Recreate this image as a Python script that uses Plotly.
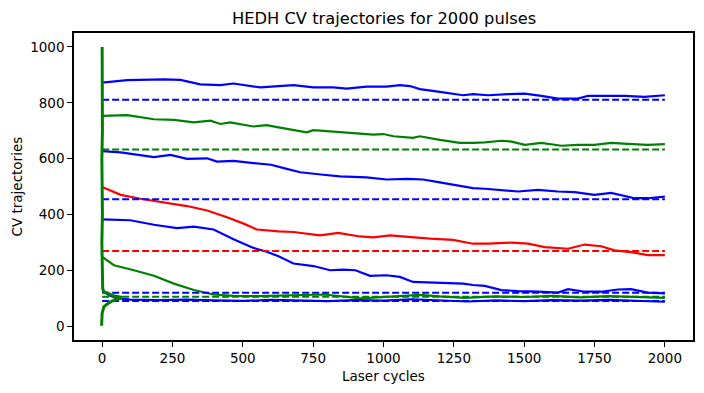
import plotly.graph_objects as go

# ---------------- data ----------------
blue_top_x = [0, 89, 219, 278, 349, 420, 467, 562, 627, 680, 751, 822, 869, 940, 1011, 1058, 1094, 1129,
              1200, 1283, 1318, 1372, 1443, 1502, 1561, 1620, 1691, 1727, 1786, 1857, 1927, 2000]
blue_top_y = [872, 881, 884, 882, 866, 863, 869, 855, 860, 863, 855, 855, 851, 858, 858, 863, 860, 849,
              839, 827, 831, 827, 831, 833, 825, 815, 815, 825, 825, 825, 821, 827]

green_top_x = [0, 89, 184, 255, 326, 385, 420, 455, 538, 585, 627, 680, 727, 751, 822, 893, 964, 1000,
               1035, 1105, 1129, 1200, 1271, 1318, 1360, 1419, 1455, 1502, 1561, 1632, 1691, 1750, 1809,
               1868, 1939, 2000]
green_top_y = [753, 756, 741, 739, 730, 736, 724, 730, 715, 720, 712, 703, 694, 702, 697, 690, 686, 688,
               680, 674, 680, 667, 656, 656, 658, 664, 661, 649, 656, 646, 649, 649, 656,
               653, 649, 652]

blue_mid_x = [0, 66, 184, 243, 302, 373, 408, 467, 538, 600, 656, 704, 786, 845, 940, 1011, 1082, 1141,
              1200, 1271, 1318, 1360, 1419, 1478, 1549, 1620, 1679, 1750, 1809, 1892, 1939, 2000]
blue_mid_y = [627, 622, 605, 613, 599, 601, 589, 592, 584, 578, 563, 551, 542, 536, 533, 525, 527, 525,
              515, 501, 494, 492, 486, 482, 488, 482, 480, 470, 477, 458, 458, 464]

red_x = [0, 66, 136, 184, 243, 302, 373, 444, 503, 550, 627, 680, 774, 839, 916, 964, 1023, 1082, 1165,
         1247, 1318, 1372, 1455, 1514, 1573, 1656, 1715, 1774, 1821, 1880, 1939, 2000]
red_y = [498, 470, 456, 448, 438, 430, 414, 390, 367, 346, 339, 337, 325, 334, 321, 318, 325, 319, 313,
         309, 295, 295, 299, 295, 283, 277, 292, 286, 271, 265, 254, 254]

blue_low_x = [0, 100, 184, 266, 326, 396, 467, 538, 585, 627, 680, 751, 810, 857, 900, 952, 1011, 1058,
              1105, 1165, 1224, 1283, 1318, 1360, 1419, 1478, 1549, 1620, 1656, 1715, 1774, 1833, 1880,
              1939, 2000]
blue_low_y = [382, 379, 363, 351, 356, 346, 311, 280, 266, 250, 224, 215, 200, 202, 200, 180, 182, 176,
              158, 156, 152, 152, 147, 144, 129, 125, 123, 120, 132, 123, 123, 131, 132,
              120, 117]

green_low_x = [0, 42, 113, 184, 255, 326, 396, 467, 550, 650, 790, 920, 1000, 1129, 1200, 1290, 1400,
               1500, 1600, 1700, 1800, 1900, 2000]
green_low_y = [248, 218, 200, 180, 152, 129, 113, 108, 107, 110, 113, 99, 104, 112, 106, 101, 106,
               104, 108, 103, 107, 104, 101]

blue_bot_x = [0, 25, 50, 100, 200, 300, 400, 500, 600, 700, 800, 900, 1000, 1100, 1200, 1300, 1400,
              1500, 1600, 1700, 1800, 1900, 2000]
blue_bot_y = [126, 110, 100, 95, 93, 95, 92, 90, 94, 91, 89, 93, 91, 96, 93, 88, 92,
              89, 93, 91, 94, 90, 87]

green_vert_x = [-2, -1, 0, 6, 18, 36, 71, 36, 18, 6, 2, 0, -1, 1, 0, -1, 1, 0, -1, 0]
green_vert_y = [1, 20, 45, 69, 79, 90, 102, 110, 117, 123, 135, 200, 300, 400, 500, 600, 700, 800, 900, 1000]

target_levels = [811, 633, 454, 269, 119, 105, 90]
target_colors = ["#0000ff", "#008000", "#0000ff", "#ff0000", "#0000ff", "#008000", "#0000ff"]
target_span = [0, 2000]

x_ticks = [0, 250, 500, 750, 1000, 1250, 1500, 1750, 2000]
y_ticks = [0, 200, 400, 600, 800, 1000]

BLUE, GREEN, RED = "#0000ff", "#008000", "#ff0000"

fig = go.Figure()

solid = [
    (blue_top_x, blue_top_y, BLUE),
    (green_top_x, green_top_y, GREEN),
    (blue_mid_x, blue_mid_y, BLUE),
    (red_x, red_y, RED),
    (blue_low_x, blue_low_y, BLUE),
    (green_low_x, green_low_y, GREEN),
    (blue_bot_x, blue_bot_y, BLUE),
]
for xs, ys, c in solid:
    fig.add_trace(go.Scatter(x=xs, y=ys, mode="lines", line=dict(color=c, width=2.2),
                             showlegend=False, hoverinfo="skip"))

for lvl, c in zip(target_levels, target_colors):
    fig.add_trace(go.Scatter(x=target_span, y=[lvl, lvl], mode="lines",
                             line=dict(color=c, width=2, dash="7px,3px"),
                             showlegend=False, hoverinfo="skip"))

fig.add_trace(go.Scatter(x=green_vert_x, y=green_vert_y, mode="lines",
                         line=dict(color=GREEN, width=3), showlegend=False, hoverinfo="skip"))

FONT = "DejaVu Sans"
# page body has an 8px margin, so the figure is sized 696x385 and offset accordingly
fig.update_layout(
    width=696, height=385,
    margin=dict(l=66, r=9, t=25, b=53),
    paper_bgcolor="white", plot_bgcolor="white",
    font=dict(family=FONT, size=13.5, color="black"),
    xaxis=dict(range=[-100, 2100], tickvals=x_ticks, ticktext=[str(v) for v in x_ticks],
               showgrid=False, zeroline=False, showline=True, linecolor="#000000", linewidth=1.6,
               mirror=True, ticks="outside", ticklen=5, tickcolor="black", tickwidth=1.2,
               tickfont=dict(family=FONT, size=13.5)),
    yaxis=dict(range=[-50, 1050], tickvals=y_ticks, ticktext=[str(v) for v in y_ticks],
               showgrid=False, zeroline=False, showline=True, linecolor="#000000", linewidth=1.6,
               mirror=True, ticks="outside", ticklen=5, tickcolor="black", tickwidth=1.2,
               tickfont=dict(family=FONT, size=13.5)),
    annotations=[
        dict(text="HEDH CV trajectories for 2000 pulses", xref="paper", yref="paper",
             x=0.5, y=1, yanchor="middle", yshift=14.5, showarrow=False,
             font=dict(family=FONT, size=16.3, color="black")),
        dict(text="Laser cycles", xref="paper", yref="paper", x=0.5, y=0, yanchor="middle",
             yshift=-36, showarrow=False, font=dict(family=FONT, size=13.5, color="black")),
        dict(text="CV trajectories", xref="paper", yref="paper", x=0, y=0.5, xanchor="center",
             xshift=-58, textangle=-90, showarrow=False,
             font=dict(family=FONT, size=13.5, color="black")),
    ],
)

fig.write_html("out.html")
